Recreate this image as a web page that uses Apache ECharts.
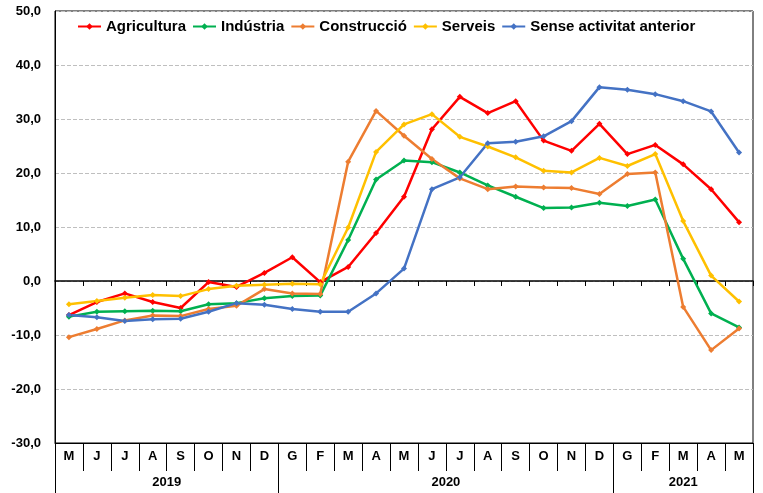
<!DOCTYPE html>
<html><head><meta charset="utf-8">
<script src="https://cdn.jsdelivr.net/npm/echarts@6/dist/echarts.min.js"></script>
<style>html,body{margin:0;padding:0;background:#fff}#c{width:763px;height:493px}</style>
</head><body><div id="c"></div>
<script>
const months2019 = ['M','J','J','A','S','O','N','D'];
const months2020 = ['G','F','M','A','M','J','J','A','S','O','N','D'];
const months2021 = ['G','F','M','A','M'];
const years = ['2019','2020','2021'];
const seriesNames = ['Agricultura','Indústria','Construcció','Serveis','Sense activitat anterior'];
const agricultura = [-6.3,-3.9,-2.3,-3.9,-5.0,-0.2,-1.1,1.5,4.4,-0.2,2.6,8.9,15.6,28.1,34.1,31.1,33.3,26.0,24.1,29.1,23.5,25.2,21.6,17.0,10.9];
const industria = [-6.6,-5.7,-5.6,-5.5,-5.6,-4.3,-4.1,-3.2,-2.8,-2.7,7.6,18.8,22.3,22.0,20.1,17.7,15.6,13.5,13.6,14.5,13.9,15.1,4.1,-6.0,-8.6];
const construccio = [-10.4,-8.9,-7.3,-6.4,-6.5,-5.2,-4.6,-1.5,-2.3,-2.4,22.1,31.5,26.9,22.6,19.0,17.0,17.5,17.3,17.2,16.1,19.8,20.1,-4.8,-12.8,-8.8];
const serveis = [-4.3,-3.7,-3.1,-2.6,-2.8,-1.5,-0.9,-0.7,-0.5,-0.6,9.9,23.9,29.0,30.9,26.7,24.9,22.9,20.4,20.1,22.8,21.3,23.5,11.1,1.0,-3.8];
const sense = [-6.3,-6.7,-7.4,-7.1,-7.0,-5.7,-4.1,-4.4,-5.2,-5.7,-5.7,-2.3,2.3,17.0,19.2,25.5,25.8,26.8,29.6,35.9,35.4,34.6,33.3,31.4,23.8];
const colors = ['#FF0000','#00B050','#ED7D31','#FFC000','#4472C4'];

const months = months2019.concat(months2020, months2021);
const yearLens = [months2019.length, months2020.length, months2021.length];
// half-month point axis for the year row
const nHalf = months.length * 2 + 1;
const yearData = new Array(nHalf).fill('');
const yearBounds = [0];
let acc = 0;
yearLens.forEach((len, i) => {
  yearData[acc * 2 + len] = years[i];
  acc += len;
  yearBounds.push(acc * 2);
});

const font = 'Liberation Sans, Arial, sans-serif';
const data = [agricultura, industria, construccio, serveis, sense];
const chart = echarts.init(document.getElementById('c'), null, {renderer: 'canvas'});
chart.setOption({
  animation: false,
  textStyle: {fontFamily: font},
  grid: {left: 55, right: 10, top: 11, bottom: 50, show: true, borderColor: '#000', borderWidth: 1},
  legend: {
    left: 72, top: 14, itemWidth: 23, itemHeight: 8, itemGap: 6,
    textStyle: {fontFamily: font, fontWeight: 'bold', fontSize: 15, color: '#000'},
    data: seriesNames
  },
  xAxis: [
    {type: 'category', data: months, position: 'bottom', boundaryGap: true,
     axisLine: {onZero: true, lineStyle: {color: '#000', width: 1.5}},
     axisTick: {show: true, interval: 0, length: 5, lineStyle: {color: '#000'}},
     axisLabel: {show: false}, splitLine: {show: false}},
    {type: 'category', data: months, position: 'bottom', boundaryGap: true,
     axisLine: {onZero: false, lineStyle: {color: '#000', width: 1}},
     axisTick: {show: true, interval: 0, length: 28, lineStyle: {color: '#000'}},
     axisLabel: {interval: 0, margin: 7, fontFamily: font, fontWeight: 'bold', fontSize: 13, color: '#000'},
     splitLine: {show: false}},
    {type: 'category', data: yearData, position: 'bottom', offset: 28, boundaryGap: false,
     axisLine: {onZero: false, show: false},
     axisTick: {show: true, length: 22, lineStyle: {color: '#000'},
       interval: (idx) => yearBounds.indexOf(idx) >= 0},
     axisLabel: {interval: 0, margin: 5, fontFamily: font, fontWeight: 'bold', fontSize: 13, color: '#000'},
     splitLine: {show: false}}
  ],
  yAxis: {
    type: 'value', min: -30, max: 50, interval: 10,
    axisLine: {show: true, lineStyle: {color: '#000'}},
    axisTick: {show: false},
    axisLabel: {margin: 14, fontFamily: font, fontWeight: 'bold', fontSize: 13, color: '#000',
      formatter: v => v.toFixed(1).replace('.', ',')},
    splitLine: {show: true, lineStyle: {color: '#bfbfbf', type: 'dashed', width: 1}}
  },
  series: seriesNames.map((n, i) => ({
    name: n, type: 'line', xAxisIndex: 0, data: data[i],
    symbol: 'diamond', symbolSize: 6, showSymbol: true,
    lineStyle: {color: colors[i], width: 2.5},
    itemStyle: {color: colors[i]},
    z: 3
  }))
});
</script></body></html>
